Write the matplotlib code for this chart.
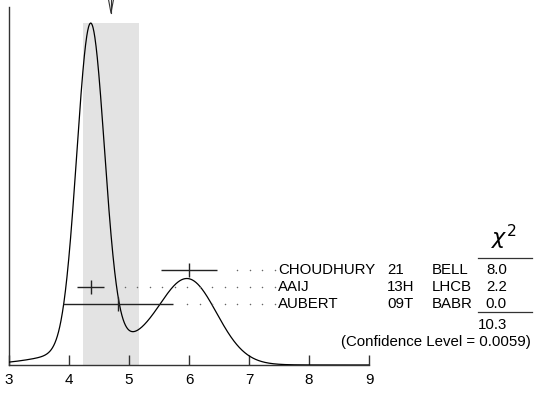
import numpy as np
import matplotlib
matplotlib.use("Agg")
import matplotlib.pyplot as plt
from matplotlib.transforms import blended_transform_factory

plt.rcParams["font.family"] = ["Liberation Sans", "DejaVu Sans"]

authors = ["CHOUDHURY", "AAIJ", "AUBERT"]
years = ["21", "13H", "09T"]
experiments = ["BELL", "LHCB", "BABR"]
values = [6.00, 4.36, 4.81]
errors = [0.47, 0.23, 0.915]
chi2 = ["8.0", "2.2", "0.0"]
chi2_total = "10.3"
conf_level = "0.0059"

# fitted average and scaled error (shaded band)
fit_value = 4.70
fit_error = 0.47

x_ticks = [3, 4, 5, 6, 7, 8, 9]

fig = plt.figure(figsize=(5.34, 3.94), dpi=100)
ax = fig.add_axes([9 / 534, 29 / 394, 360 / 534, 358 / 394])

# ideogram: sum of gaussians with area proportional to 1/sigma
x = np.linspace(3, 9, 1200)
y = np.zeros_like(x)
for v, e in zip(values, errors):
    y += np.exp(-0.5 * ((x - v) / e) ** 2) / e ** 2
y = y / y.max()

ax.axvspan(fit_value - fit_error, fit_value + fit_error, ymin=0, ymax=1 / 1.047,
           color="#e3e3e3", lw=0, zorder=0)
ax.plot(x, y, color="black", lw=0.9, zorder=3)

# rows for the measurements
row_y = [0.279, 0.228, 0.178]
dot_end = 7.43
dot_step = 12.5 / 60
for v, e, ry in zip(values, errors, row_y):
    ax.errorbar(v, ry, xerr=e, fmt="none", ecolor="#222222", elinewidth=1.0,
                capsize=0, zorder=4)
    ax.plot([v], [ry], marker="|", ms=9.5, mew=1.0, color="#222222", zorder=4)
    k = np.arange(0, 40)
    dx = dot_end - dot_step * k
    dx = dx[dx > v + e + 0.15]
    ax.scatter(dx, np.full_like(dx, ry), s=1.2, color="#666666", lw=0,
               clip_on=False, zorder=4)

ax.set_xlim(3, 9)
ax.set_ylim(0, 1.047)
for s in ["top", "right"]:
    ax.spines[s].set_visible(False)
ax.spines["left"].set_color("#333333")
ax.spines["bottom"].set_color("#333333")
ax.spines["left"].set_linewidth(1.0)
ax.spines["bottom"].set_linewidth(1.0)
ax.set_xticks(x_ticks)
ax.set_xticklabels([str(t) for t in x_ticks])
ax.set_yticks([])
ax.tick_params(axis="x", direction="in", length=7, width=1.0, color="#333333",
               labelsize=11, pad=6)

# arrow marking the average
tr = blended_transform_factory(ax.transData, ax.transAxes)
top = 1 + 7 / 358
tip = 1 - 6 / 358
ax.plot([fit_value, fit_value], [top, tip], color="#333333", lw=0.8,
        transform=tr, clip_on=False)
ax.plot([fit_value - 0.04, fit_value, fit_value + 0.04], [top, tip, top],
        color="#333333", lw=0.8, transform=tr, clip_on=False)

# table of measurements
px = lambda p: (p - 9) / 60 + 3
fs = 10.8
for a, yr, ex, c, ry in zip(authors, years, experiments, chi2, row_y):
    ax.text(px(278), ry, a, fontsize=fs, va="center", ha="left")
    ax.text(px(387), ry, yr, fontsize=fs, va="center", ha="left")
    ax.text(px(432), ry, ex, fontsize=fs, va="center", ha="left")
    ax.text(px(507), ry, c, fontsize=fs, va="center", ha="right")

ax.text(px(504), 0.372, r"$\chi^2$", fontsize=16, va="center", ha="center")
ax.plot([px(478), px(532)], [0.3129, 0.3129], color="#333333", lw=0.9, clip_on=False)
ax.plot([px(478), px(532)], [0.155, 0.155], color="#333333", lw=0.9, clip_on=False)
ax.text(px(507), 0.117, chi2_total, fontsize=fs, va="center", ha="right")
ax.text(px(531), 0.067, "(Confidence Level = " + conf_level + ")", fontsize=fs,
        va="center", ha="right")

fig.savefig("out.png", dpi=100)
